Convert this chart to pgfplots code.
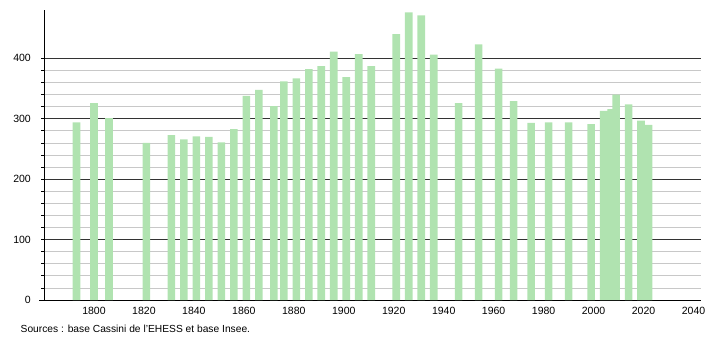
\documentclass[border=0pt]{standalone}
\usepackage{fontspec}
\setmainfont{Liberation Sans}
\usepackage{pgfplots}
\pgfplotsset{compat=1.18}
\definecolor{bargreen}{RGB}{176,227,176}
\definecolor{majgrid}{RGB}{51,51,51}
\definecolor{mingrid}{RGB}{200,200,200}
\begin{document}
\fontsize{10.5}{12}\selectfont
\begin{tikzpicture}
\useasboundingbox (0,0) rectangle (710pt,-340pt);
\begin{axis}[
  at={(44pt,-300pt)}, anchor=south west,
  scale only axis, width=657pt, height=290pt,
  xmin=1780, xmax=2043, ymin=0, ymax=480,
  axis x line*=bottom, axis y line*=left,
  axis line style={black, line width=0.9pt, -},
  xtick={1800,1820,...,2040},
  x tick label style={/pgf/number format/1000 sep={}, yshift=-1pt},
  xtick style={draw=none},
  ytick={0,100,...,400},
  minor y tick num=4,
  ymajorgrids, yminorgrids,
  major grid style={majgrid, line width=0.8pt},
  minor grid style={mingrid, line width=0.8pt},
  ytick style={black, line width=0.8pt},
  tick align=outside,
  major tick length=2.5pt, minor tick length=2.5pt,
  y tick label style={xshift=-7pt},
  /pgf/number format/assume math mode=true,
  tick label style={font=\fontsize{10.5}{12}\selectfont},
  clip=false,
]
\addplot[ybar, bar width=7.6pt, fill=bargreen, draw=none] coordinates {
(1793,294) (1800,326) (1806,301) (1821,260) (1831,273) (1836,266)
(1841,271) (1846,270) (1851,261) (1856,283) (1861,338) (1866,348)
(1872,321) (1876,362) (1881,367) (1886,382) (1891,387) (1896,411)
(1901,369) (1906,407) (1911,387) (1921,440) (1926,476) (1931,471)
(1936,406) (1946,326) (1954,423) (1962,383) (1968,329) (1975,293)
(1982,294) (1990,294) (1999,291) (2004,313) (2007,316) (2009,340)
(2014,324) (2019,297) (2022,290)
};
\end{axis}
\draw[black, line width=0.9pt] (39pt,-300pt) -- (44pt,-300pt);
\node[anchor=west, inner sep=0pt, font=\fontsize{10.25}{12}\selectfont] at (20.5pt,-329pt) {Sources : base Cassini de l'EHESS et base Insee.};
\end{tikzpicture}
\end{document}
